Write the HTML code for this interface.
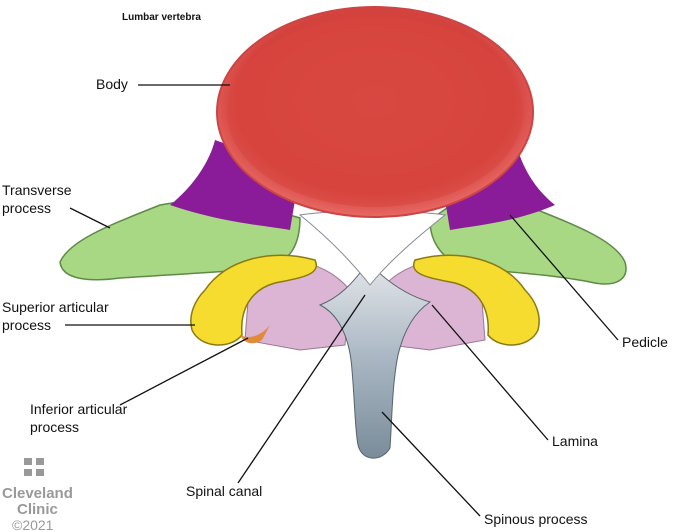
<!DOCTYPE html>
<html><head><meta charset="utf-8"><style>
html,body{margin:0;padding:0;background:#fff;}
svg{display:block;font-family:"Liberation Sans",Arial,sans-serif;}
</style></head><body>
<svg width="685" height="532" viewBox="0 0 685 532" xmlns="http://www.w3.org/2000/svg">
<defs>
<radialGradient id="bodyg" cx="50%" cy="45%" r="55%">
<stop offset="0" stop-color="#d84a44"/><stop offset="0.8" stop-color="#d4423d"/><stop offset="1" stop-color="#e86a66"/>
</radialGradient>
<linearGradient id="spg" x1="0" y1="0" x2="0" y2="1">
<stop offset="0" stop-color="#e4e6ea"/><stop offset="0.5" stop-color="#a8b6c2"/><stop offset="1" stop-color="#7a8c9a"/>
</linearGradient>
</defs>
<!-- green transverse processes -->
<path d="M60,262 C70,240 110,225 160,205 L220,195 L300,218 C300,245 290,260 270,268 C220,272 170,275 120,278 C90,282 62,280 60,262Z" fill="#a8d884" stroke="#5e8a48" stroke-width="1.5"/>
<path d="M625,262 C615,240 575,225 525,205 L465,195 L430,220 C430,245 445,260 465,268 C510,272 555,275 590,282 C615,288 630,280 625,262Z" fill="#a8d884" stroke="#5e8a48" stroke-width="1.5"/>
<!-- purple pedicles -->
<path d="M170,205 C195,185 210,160 215,140 L300,170 L290,230 C260,225 220,222 170,205Z" fill="#8a1c99"/>
<path d="M555,205 C530,185 520,160 515,140 L440,170 L450,230 C480,225 515,222 555,205Z" fill="#8a1c99"/>
<!-- lamina pink -->
<path d="M250,275 C275,255 320,255 350,290 L345,345 L300,350 L245,340Z" fill="#dcb4d4" stroke="#9b7892" stroke-width="1"/>
<path d="M480,275 C455,255 410,255 380,290 L390,345 L430,350 L485,340Z" fill="#dcb4d4" stroke="#9b7892" stroke-width="1"/>
<!-- spinous process -->
<path d="M320,305 C340,315 350,340 352,370 C355,405 355,430 358,445 C362,462 382,462 390,448 C392,420 392,385 398,355 C404,330 415,312 430,302 C405,295 385,280 368,262 C352,285 338,298 320,305Z" fill="url(#spg)" stroke="#55636e" stroke-width="1"/>
<!-- yellow superior articular -->
<path d="M205,290 C225,260 270,248 315,260 C322,275 300,278 275,283 C250,290 240,310 242,335 C230,350 200,348 192,330 C188,315 195,300 205,290Z" fill="#f6dc2e" stroke="#8a7a10" stroke-width="1.5"/>
<path d="M525,290 C505,260 460,248 415,260 C408,275 430,278 455,283 C480,290 490,310 488,335 C500,350 530,348 538,330 C542,315 535,300 525,290Z" fill="#f6dc2e" stroke="#8a7a10" stroke-width="1.5"/>
<path d="M240,335 C250,340 262,335 270,325 L262,340 C255,345 245,345 240,335Z" fill="#e08a3a"/>
<!-- white canal -->
<path d="M300,215 C330,210 410,210 445,215 C420,235 390,260 370,285 C350,260 325,235 300,215Z" fill="#fff" stroke="#889" stroke-width="1"/>
<!-- body -->
<ellipse cx="375" cy="112" rx="158" ry="105" fill="url(#bodyg)" stroke="#c44" stroke-width="2"/>
<ellipse cx="375" cy="112" rx="148" ry="95" fill="#d8463f" opacity="0.6"/>
<!-- labels -->
<g font-size="14" fill="#111">
<text x="122" y="20" font-size="10" font-weight="bold">Lumbar vertebra</text>
<text x="96" y="89">Body</text>
<text x="2" y="195">Transverse</text><text x="2" y="213">process</text>
<text x="2" y="312">Superior articular</text><text x="2" y="330">process</text>
<text x="30" y="414">Inferior articular</text><text x="30" y="432">process</text>
<text x="186" y="496">Spinal canal</text>
<text x="622" y="347">Pedicle</text>
<text x="552" y="446">Lamina</text>
<text x="484" y="524">Spinous process</text>
</g>
<g stroke="#111" stroke-width="1.3" fill="none">
<line x1="138" y1="85" x2="230" y2="85"/>
<line x1="70" y1="208" x2="110" y2="228"/>
<line x1="65" y1="325" x2="195" y2="325"/>
<line x1="120" y1="405" x2="248" y2="338"/>
<line x1="238" y1="483" x2="365" y2="295"/>
<line x1="618" y1="340" x2="510" y2="215"/>
<line x1="548" y1="440" x2="432" y2="305"/>
<line x1="480" y1="516" x2="382" y2="412"/>
</g>
<!-- logo -->
<g fill="#999">
<rect x="24" y="458" width="8" height="7"/><rect x="36" y="458" width="8" height="7"/>
<rect x="24" y="469" width="8" height="7"/><rect x="36" y="469" width="8" height="7"/>
</g>
<text x="2" y="498" font-size="15" font-weight="bold" fill="#999">Cleveland</text>
<text x="17" y="514" font-size="15" font-weight="bold" fill="#999">Clinic</text>
<text x="12" y="530" font-size="14" fill="#999">©2021</text>
</svg>
</body></html>
